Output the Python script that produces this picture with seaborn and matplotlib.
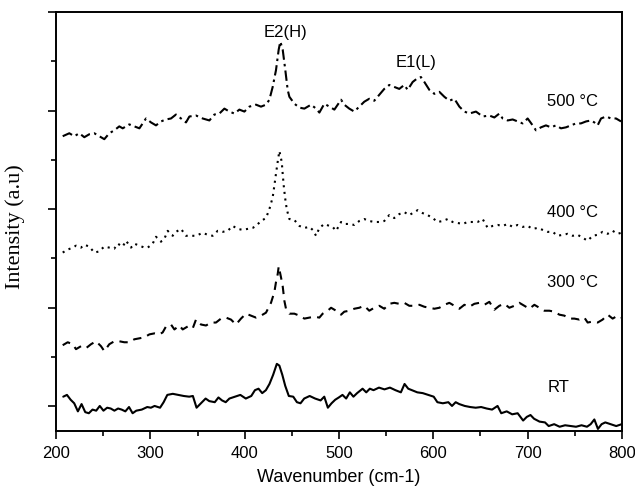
import matplotlib
matplotlib.use("Agg")
import matplotlib.pyplot as plt
import seaborn as sns
import pandas as pd
from matplotlib.ticker import MultipleLocator

# Raman spectra (wavenumber in cm-1, intensity in a.u. with offsets)
w500 = [207.1, 214.1, 219.4, 224.7, 230.0, 235.3, 240.6, 245.9, 251.2, 256.5,
        261.8, 267.1, 270.7, 277.7, 283.0, 288.4, 295.4, 300.7, 306.0, 311.3,
        316.6, 321.9, 327.2, 332.5, 337.8, 341.4, 348.4, 355.5, 362.6, 367.9,
        373.2, 378.5, 383.8, 389.1, 394.4, 399.7, 405.0, 412.0, 417.3, 422.6,
        426.2, 429.7, 433.2, 436.1, 437.8, 440.3, 443.1, 445.6, 447.4, 452.7,
        458.0, 463.3, 470.4, 475.7, 479.2, 484.5, 489.8, 495.1, 502.2, 505.6,
        510.9, 516.2, 521.5, 526.8, 532.1, 537.4, 542.7, 548.0, 553.3, 558.6,
        563.9, 569.2, 572.8, 578.1, 583.4, 586.9, 590.5, 595.8, 601.1, 606.4,
        611.7, 617.0, 622.3, 627.6, 632.9, 638.2, 645.2, 652.3, 659.4, 664.7,
        670.0, 673.5, 678.8, 684.1, 689.4, 694.7, 700.0, 705.3, 708.8, 714.1,
        719.4, 724.7, 730.0, 735.3, 740.6, 745.9, 751.2, 756.5, 761.9, 767.2,
        770.7, 774.2, 777.8, 783.1, 788.4, 793.7, 799.0]
i500 = [274, 277, 274, 277, 273, 276, 277, 274, 271, 277,
        280, 284, 282, 286, 284, 282, 292, 288, 285, 289,
        291, 292, 296, 292, 288, 294, 295, 292, 290, 296,
        297, 302, 299, 297, 301, 299, 304, 306, 304, 306,
        311, 324, 341, 362, 370, 362, 341, 321, 314, 307,
        303, 302, 306, 302, 298, 307, 304, 301, 311, 306,
        302, 299, 304, 309, 312, 310, 316, 322, 326, 324,
        322, 326, 321, 329, 333, 334, 329, 321, 317, 319,
        314, 310, 312, 304, 299, 297, 299, 294, 295, 293,
        297, 292, 290, 291, 289, 287, 292, 285, 280, 283,
        285, 283, 285, 282, 283, 285, 287, 287, 289, 290,
        288, 285, 292, 294, 292, 292, 289]

w400 = [207.1, 212.4, 217.7, 221.2, 226.5, 230.0, 235.3, 240.6, 245.2, 251.2,
        256.5, 261.8, 265.4, 270.7, 274.2, 279.5, 283.0, 288.4, 293.7, 297.2,
        302.5, 306.0, 311.3, 314.9, 318.4, 323.7, 327.2, 332.5, 337.8, 343.1,
        348.4, 355.5, 360.8, 366.1, 371.4, 376.7, 382.0, 387.3, 392.6, 397.9,
        403.2, 408.5, 412.0, 417.3, 422.6, 426.2, 429.7, 431.5, 433.2, 435.0,
        436.8, 439.3, 440.3, 441.4, 442.8, 444.6, 447.4, 452.7, 458.0, 463.3,
        468.6, 472.1, 475.7, 479.2, 484.5, 489.8, 493.3, 496.9, 502.2, 505.7,
        510.9, 516.2, 521.5, 526.8, 532.1, 537.4, 542.7, 548.0, 553.3, 558.6,
        563.9, 569.2, 574.5, 579.8, 583.4, 588.7, 594.0, 599.3, 604.6, 609.9,
        615.2, 620.5, 625.8, 631.1, 636.4, 641.7, 647.0, 652.3, 657.6, 662.9,
        668.2, 673.5, 678.8, 684.1, 689.4, 694.7, 700.0, 705.3, 710.6, 715.9,
        721.2, 726.5, 731.8, 737.1, 742.4, 747.7, 753.0, 758.3, 763.6, 768.9,
        774.2, 779.5, 784.8, 790.1, 795.4, 799.0]
i400 = [156, 159, 161, 163, 161, 164, 162, 156, 157, 162,
        161, 160, 165, 162, 168, 161, 165, 163, 161, 161,
        165, 172, 167, 170, 178, 173, 177, 180, 173, 173,
        173, 176, 174, 173, 178, 177, 178, 183, 180, 179,
        180, 181, 183, 188, 191, 200, 212, 224, 236, 248,
        259, 248, 236, 224, 212, 200, 190, 189, 183, 181,
        182, 179, 173, 181, 185, 183, 182, 178, 187, 185,
        185, 184, 188, 190, 188, 187, 187, 188, 194, 191,
        195, 197, 194, 197, 199, 196, 194, 191, 187, 188,
        190, 187, 186, 185, 187, 187, 187, 190, 181, 183,
        184, 183, 185, 182, 184, 182, 183, 180, 181, 179,
        177, 177, 173, 174, 175, 173, 174, 171, 168, 173,
        174, 177, 175, 178, 175, 176]

w300 = [207.1, 212.4, 217.7, 221.2, 226.5, 231.8, 237.1, 242.4, 247.7, 251.2,
        256.5, 261.8, 267.1, 272.4, 277.7, 283.0, 288.4, 293.7, 299.0, 304.3,
        309.6, 313.1, 316.6, 321.9, 325.5, 330.8, 334.3, 339.6, 344.9, 348.4,
        353.7, 359.0, 364.3, 369.6, 374.9, 380.2, 385.5, 390.8, 396.1, 401.4,
        406.7, 412.0, 417.3, 422.6, 427.9, 431.5, 433.2, 435.0, 436.1, 438.5,
        440.3, 442.1, 443.8, 447.4, 452.7, 458.0, 463.3, 468.6, 473.9, 479.2,
        482.7, 488.0, 491.6, 496.9, 502.2, 505.6, 510.9, 516.2, 521.5, 526.8,
        532.1, 537.4, 542.7, 548.0, 553.3, 558.6, 563.9, 569.2, 574.5, 579.8,
        585.2, 590.5, 595.8, 601.1, 606.4, 611.7, 617.0, 622.3, 627.6, 632.9,
        638.2, 643.5, 648.8, 654.1, 659.4, 664.7, 670.0, 675.3, 680.6, 685.9,
        691.2, 696.5, 701.8, 707.1, 712.4, 717.7, 723.0, 728.3, 733.6, 738.9,
        744.2, 749.5, 754.8, 760.1, 763.6, 768.9, 774.2, 779.5, 784.8, 790.1,
        795.4, 799.0]
i300 = [62, 65, 63, 58, 61, 59, 63, 66, 61, 56,
        63, 66, 66, 65, 65, 68, 69, 70, 73, 74,
        73, 75, 81, 83, 78, 82, 78, 81, 79, 88,
        83, 82, 85, 85, 89, 90, 88, 83, 89, 94,
        92, 90, 92, 95, 105, 116, 126, 134, 142, 131,
        122, 107, 99, 94, 94, 92, 89, 90, 91, 90,
        94, 97, 100, 97, 93, 96, 97, 99, 100, 102,
        97, 100, 102, 99, 104, 105, 104, 105, 102, 102,
        103, 101, 100, 99, 100, 103, 105, 102, 99, 103,
        101, 104, 105, 103, 106, 98, 102, 104, 100, 102,
        105, 102, 99, 103, 100, 97, 97, 96, 93, 92,
        89, 89, 88, 90, 85, 86, 85, 88, 93, 89,
        92, 90]

wrt = [207.7, 211.6, 215.5, 219.3, 223.2, 227.1, 231.0, 234.8, 238.7, 242.6,
       246.4, 250.3, 254.2, 258.0, 261.9, 265.8, 269.6, 273.5, 277.4, 281.2,
       285.1, 290.9, 296.7, 300.6, 304.5, 310.3, 314.1, 318.0, 323.8, 329.6,
       335.4, 341.2, 345.1, 349.0, 352.8, 358.6, 362.5, 368.3, 372.2, 376.0,
       379.9, 383.8, 389.6, 395.4, 401.2, 407.0, 410.9, 414.7, 418.6, 422.5,
       426.3, 430.2, 434.1, 436.8, 439.9, 443.0, 446.8, 451.5, 455.4, 459.2,
       463.1, 468.9, 474.7, 480.5, 484.4, 488.2, 492.1, 496.0, 499.8, 503.7,
       507.6, 511.5, 515.3, 519.2, 525.0, 528.9, 532.7, 536.6, 542.4, 548.2,
       554.0, 559.8, 565.6, 569.5, 573.4, 577.2, 583.0, 588.8, 594.6, 600.4,
       604.3, 610.1, 615.9, 619.8, 623.7, 627.5, 633.3, 639.1, 644.9, 650.7,
       656.5, 662.3, 668.1, 672.0, 677.8, 683.6, 689.4, 695.2, 699.1, 703.0,
       706.8, 712.6, 718.4, 722.3, 728.1, 733.9, 739.7, 745.5, 751.3, 757.1,
       762.9, 766.8, 770.7, 774.5, 778.4, 782.3, 788.1, 793.9, 799.7]
irt = [9.8, 11.6, 6.7, 3.1, -5.1, 2.3, -5.9, -7.0, -3.3, -4.4,
       0.4, -4.4, -1.4, -2.2, -4.4, -2.2, -3.3, -5.1, -0.7, -7.0,
       -4.4, -3.3, -0.7, -1.4, 0.4, -1.4, 4.2, 11.6, 12.7, 11.6,
       10.5, 9.8, 10.5, -1.4, 2.3, 7.9, 5.3, 4.2, 9.0, 6.0,
       4.2, 7.9, 9.8, 11.6, 7.9, 10.5, 16.4, 17.9, 13.4, 16.4,
       22.7, 32.0, 43.1, 41.3, 32.0, 20.8, 10.5, 9.8, 4.2, 3.1,
       7.9, 10.5, 7.9, 6.0, 9.8, -1.4, 3.1, 6.7, 9.0, 11.6,
       7.9, 14.2, 9.8, 13.4, 17.9, 14.2, 17.9, 16.4, 19.0, 17.2,
       19.0, 16.4, 14.2, 22.7, 17.9, 16.4, 14.2, 13.4, 11.6, 9.8,
       4.2, 3.1, 4.2, 0.4, 4.2, 2.3, 0.4, -0.7, -1.4, -0.7,
       -2.2, -3.3, 0.4, -7.0, -5.1, -8.1, -7.0, -14.4, -10.7, -8.8,
       -12.6, -15.5, -16.3, -20.0, -18.1, -20.7, -19.2, -20.0, -20.7, -19.2,
       -20.7, -18.1, -13.3, -22.9, -18.1, -16.3, -18.1, -20.0, -18.1]

series_labels = ["500 \u00b0C", "400 \u00b0C", "300 \u00b0C", "RT"]
label_pos = [(720, 310), (720, 198), (720, 127), (721, 20)]
peak_labels = ["E2(H)", "E1(L)"]
peak_pos = [(443, 380), (582, 350)]

sns.set_style("ticks", {"axes.edgecolor": "black", "text.color": "black",
                        "xtick.color": "black", "ytick.color": "black",
                        "axes.labelcolor": "black"})
plt.rcParams["font.family"] = ["Liberation Sans", "DejaVu Sans"]

fig = plt.figure(figsize=(6.35, 4.89), dpi=100)
ax = fig.add_axes([0.0882, 0.1166, 0.8913, 0.8568])

curves = [
    (w500, i500, (0, (5, 2, 1.2, 2))),
    (w400, i400, (0, (1, 2.2))),
    (w300, i300, (0, (4, 3))),
    (wrt, irt, "-"),
]
for w, i, ls in curves:
    df = pd.DataFrame({"w": w, "i": i})
    sns.lineplot(data=df, x="w", y="i", ax=ax, color="black", sort=False,
                 estimator=None, linewidth=1.5, linestyle=ls)

for txt, (x, y) in zip(series_labels, label_pos):
    ax.text(x, y, txt, fontsize=12, ha="left", va="center", color="black")
for txt, (x, y) in zip(peak_labels, peak_pos):
    ax.text(x, y, txt, fontsize=12, ha="center", va="center", color="black")

ax.set_xlim(200, 800)
ax.set_ylim(-25, 400)
ax.xaxis.set_major_locator(MultipleLocator(100))
ax.xaxis.set_minor_locator(MultipleLocator(50))
ax.yaxis.set_major_locator(MultipleLocator(100))
ax.yaxis.set_minor_locator(MultipleLocator(50))
ax.tick_params(which="major", direction="out", length=6, width=1.2, labelsize=12,
               pad=4, colors="black")
ax.tick_params(which="minor", direction="out", length=3.5, width=1.2, colors="black")
ax.tick_params(axis="y", labelleft=False)
for s in ax.spines.values():
    s.set_linewidth(1.4)
    s.set_color("black")
    s.set_visible(True)

ax.set_xlabel("Wavenumber (cm-1)", fontsize=13, labelpad=6, color="black")
ax.set_ylabel("Intensity (a.u)", fontsize=16, color="black",
              family=["Liberation Serif", "DejaVu Serif"])
ax.yaxis.set_label_coords(-0.055, 0.49)

fig.savefig("out.png", dpi=100)
plt.close(fig)
